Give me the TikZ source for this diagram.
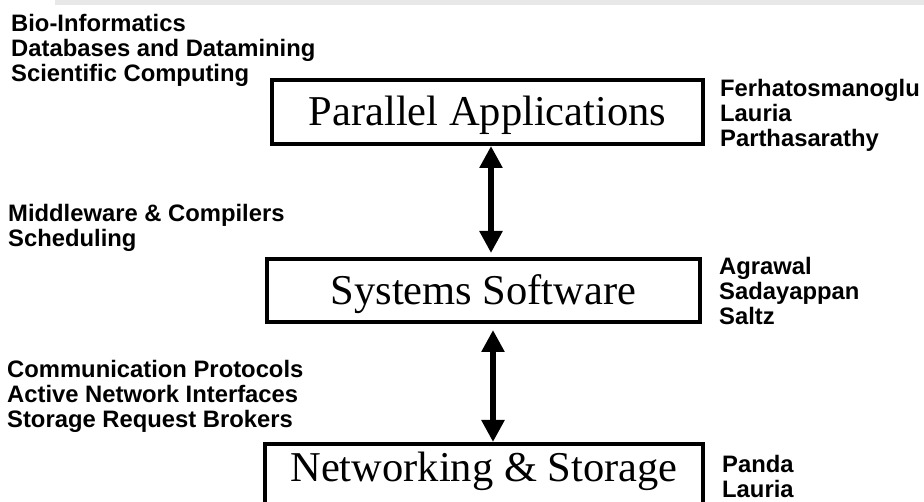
\documentclass[tikz,border=0pt]{standalone}
\usepackage{fontspec}
\setmainfont{Liberation Serif}
\newfontfamily\labelsans{Liberation Sans}
\usetikzlibrary{arrows.meta}
\definecolor{bandgrey}{HTML}{E8E8E8}
\newcommand{\linesblock}[1]{%
  \renewcommand{\arraystretch}{1}%
  \begin{tabular}[t]{@{}l@{}}#1\end{tabular}}
\begin{document}
\begin{tikzpicture}[x=1pt, y=-1pt,
  layerbox/.style={draw, line width=4pt, minimum width=#1, inner sep=0pt,
    text height=28pt, text depth=0pt,
    font=\fontsize{42.5}{48}\selectfont},
  topics/.style={anchor=base west, inner sep=0pt, align=left,
    font=\labelsans\bfseries\fontsize{23.8}{25}\selectfont},
  updown/.style={line width=6pt,
    {Triangle[width=22pt,length=22pt]}-{Triangle[width=22pt,length=22pt]}}
]
% page area
\clip (0,0) rectangle (924,502);
\fill[white] (0,0) rectangle (924,502);
\fill[bandgrey] (55,0) rectangle (924,5);

% the three layers
\node[layerbox=431pt, minimum height=64pt] (apps) at (487.5,112)
  {Parallel Applications};
\node[layerbox=433pt, minimum height=63pt] (sys) at (483.5,290.5)
  {Systems Software};
\node[layerbox=438pt, minimum height=64pt, text depth=16pt] (net) at (484,476)
  {Networking \& Storage};

% connectors between layers
\coordinate (ax1) at (491,0);
\coordinate (ax2) at (493,0);
\draw[updown, shorten >=4pt] (apps.south -| ax1) -- (sys.north -| ax1);
\draw[updown, shorten <=6pt] (sys.south -| ax2) -- (net.north -| ax2);

% research areas (left)
\node[topics] (areasA) at (11,32)
  {\linesblock{Bio-Informatics\\Databases and Datamining\\Scientific Computing}};
\node[topics] (areasB) at (8,222)
  {\linesblock{Middleware \& Compilers\\Scheduling}};
\node[topics] (areasC) at (7,378)
  {\linesblock{Communication Protocols\\Active Network Interfaces\\Storage Request Brokers}};

% people (right)
\node[topics] (peopleA) at (720,97)
  {\linesblock{Ferhatosmanoglu\\Lauria\\Parthasarathy}};
\node[topics] (peopleB) at (719,275)
  {\linesblock{Agrawal\\Sadayappan\\Saltz}};
\node[topics] (peopleC) at (722,472)
  {\linesblock{Panda\\Lauria}};
\end{tikzpicture}
\end{document}
